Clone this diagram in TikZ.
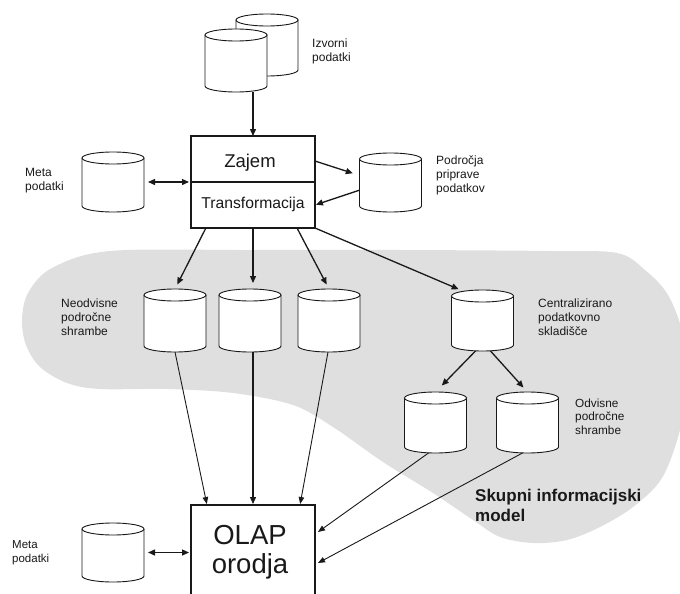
\documentclass[tikz,border=0pt]{standalone}
\usepackage{fontspec}
\setmainfont{Liberation Sans}
\usetikzlibrary{arrows.meta,calc}
\definecolor{areagray}{RGB}{223,223,223}
\definecolor{ink}{RGB}{25,25,25}

% database drum: name, centre x, top y, bottom y
\newcommand\dbcyl[4]{%
  \node[cylbox, minimum height={#4-#3}] (#1) at ({#2},{(#3+#4)/2}) {};
  \path[cylline] ({#2-31},{#3+6}) -- ({#2-31},{#4-6})
    arc[start angle=180,end angle=0,x radius=31,y radius=6] -- ({#2+31},{#3+6});
  \path[cylline] ({#2},{#3+6}) ellipse[x radius=31,y radius=6];
}

\begin{document}
\begin{tikzpicture}[x=1pt,y=-1pt,
  cylbox/.style={rectangle, minimum width=62pt, inner sep=0pt, outer sep=0pt},
  cylline/.style={draw=ink, fill=white, line width=0.9pt},
  boxline/.style={draw=ink, line width=1.6pt},
  frame/.style={rectangle, inner sep=0pt, outer sep=0pt},
  arr/.style={draw=ink, line width=1.3pt, -{Triangle[length=7pt,width=6pt]}},
  thinarr/.style={draw=ink, line width=0.9pt, -{Triangle[length=7pt,width=5.5pt]}},
  dbl/.style={draw=ink, line width=1.3pt, {Triangle[length=7pt,width=6pt]}-{Triangle[length=7pt,width=6pt]}},
  lbl/.style={anchor=north west, align=left, inner sep=0pt, text=ink,
    font=\fontsize{12}{14}\selectfont},
]
\useasboundingbox (0,0) rectangle (680,594);
\clip (0,0) rectangle (680,594);

% shared information model area
\fill[areagray] plot[smooth cycle, tension=0.55] coordinates {
  (110,251) (250,250) (400,250) (550,251) (617,253) (645,270) (668,295)
  (683,335) (686,385) (680,430) (662,478) (633,507) (600,527) (567,540)
  (533,543) (500,537) (473,520) (433,493) (383,462) (333,427) (293,405)
  (233,393) (167,389) (100,389) (67,383) (40,367) (26,345) (22,320)
  (28,293) (52,268)};

% source data
\dbcyl{src2}{267}{14}{76}
\dbcyl{src1}{236}{29}{92}
\node[lbl] (lsrc) at (312,38.5) {Izvorni\\podatki};

% extraction / transformation
\node[frame, boxline, minimum width=124pt, minimum height=92pt] (etl) at (253,182) {};
\draw[boxline] (etl.west) -- (etl.east);
\node[anchor=base, inner sep=0pt, text=ink, font=\fontsize{18.5}{22}\selectfont] (zajem) at (250,167) {Zajem};
\node[anchor=base, inner sep=0pt, text=ink, font=\fontsize{15.7}{19}\selectfont] (transf) at (253,208) {Transformacija};

% metadata and staging
\dbcyl{meta1}{113}{152}{212}
\node[lbl] (lmeta1) at (25,168.5) {Meta\\podatki};
\dbcyl{stage}{390.5}{153}{212}
\node[lbl] (lstage) at (436,156) {Področja\\priprave\\podatkov};

% independent marts
\dbcyl{n1}{175}{289}{352}
\dbcyl{n2}{250}{289}{352}
\dbcyl{n3}{329}{289}{352}
\node[lbl] (lind) at (61,298.5) {Neodvisne\\področne\\shrambe};

% central warehouse and dependent marts
\dbcyl{cdw}{482.5}{290}{351}
\node[lbl] (lcdw) at (538,298.5) {Centralizirano\\podatkovno\\skladišče};
\dbcyl{d1}{435.5}{392}{453}
\dbcyl{d2}{527.5}{392}{453}
\node[lbl, font=\fontsize{11.8}{13.5}\selectfont] (ldep) at (575,398.5) {Odvisne\\področne\\shrambe};
\node[lbl, font=\bfseries\fontsize{17}{20}\selectfont] (lmodel) at (475,488.5) {Skupni informacijski\\model};

% OLAP tools
\node[frame, minimum width=124pt, minimum height=100pt] (olap) at (253,555) {};
\draw[boxline] (olap.south west) -- (olap.north west) -- (olap.north east) -- (olap.south east);
\node[anchor=base, inner sep=0pt, text=ink, font=\fontsize{27.5}{30}\selectfont] (tolap) at (250,544) {OLAP};
\node[anchor=base, inner sep=0pt, text=ink, font=\fontsize{27.5}{30}\selectfont] (torodja) at (250,573) {orodja};
\dbcyl{meta2}{113}{523}{582}
\node[lbl, font=\fontsize{11.5}{14}\selectfont] (lmeta2) at (12,540) {Meta\\podatki};

% connectors
\draw[arr] (src1.south -| etl.north) -- (etl.north);
\draw[dbl, shorten <=4pt, shorten >=2pt] (meta1.east) -- (etl.west);
\draw[arr, shorten >=7pt] ($(etl.north east)!0.272!(etl.south east)$) -- ($(stage.north west)!0.38!(stage.south west)$);
\draw[arr, shorten >=1pt] ($(stage.north west)!0.63!(stage.south west)$) -- ($(etl.north east)!0.75!(etl.south east)$);
\draw[arr, shorten >=5pt] ($(etl.south west)!0.12!(etl.south east)$) -- (n1.north);
\draw[arr, shorten >=6pt] (etl.south) -- (etl.south |- n2.north);
\draw[arr, shorten >=5pt] ($(etl.south west)!0.855!(etl.south east)$) -- (n3.north);
\draw[arr, shorten >=2pt] (etl.south east) -- ($(cdw.north)+(-22,0)$);
\draw[arr, shorten >=9pt] ($(cdw.south)+(-7,0)$) -- (d1.north);
\draw[arr, shorten >=6pt] ($(cdw.south)+(8,0)$) -- (d2.north);

\draw[thinarr, shorten >=1pt] (n1.south) -- ($(olap.north west)+(16,0)$);
\draw[arr, shorten >=1pt] (n2.south -| olap.north) -- (olap.north);
\draw[thinarr, shorten >=1pt] ($(n3.south)+(-1,0)$) -- ($(olap.north east)+(-15,0)$);
\draw[thinarr] ($(d1.south)+(-7,0)$) -- ($(olap.north east)+(3,27)$);
\draw[thinarr] ($(d2.south)+(-5,0)$) -- ($(olap.north east)+(3,58)$);
\draw[dbl, shorten <=4pt, shorten >=2pt] (meta2.east) -- (meta2.east -| olap.west);
\end{tikzpicture}
\end{document}
